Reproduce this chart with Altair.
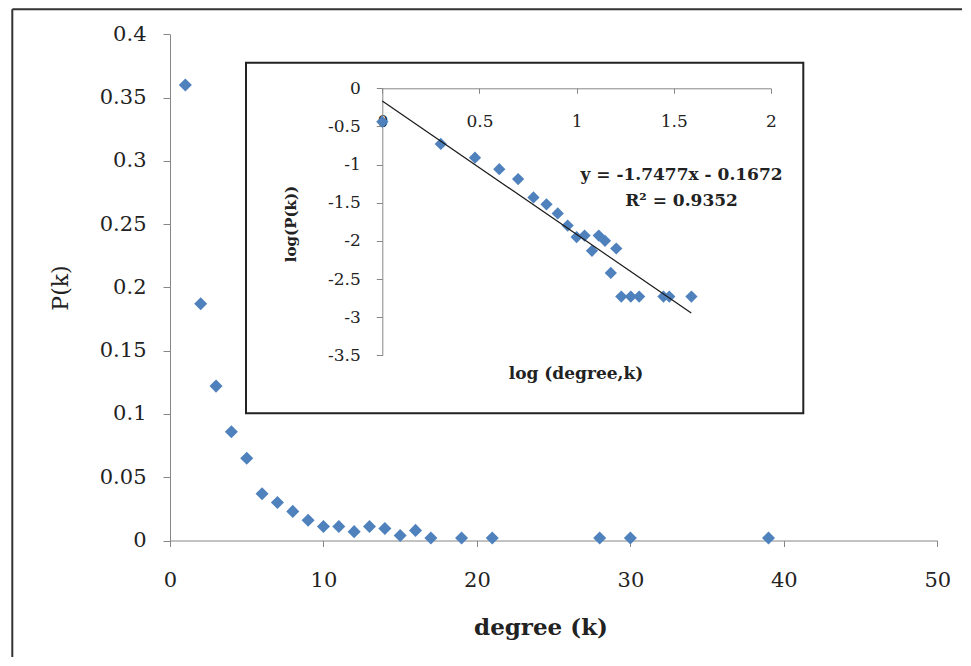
import altair as alt
import pandas as pd

# ---- data ----
degree = [1, 2, 3, 4, 5, 6, 7, 8, 9, 10, 11, 12, 13, 14, 15, 16, 17, 19, 21, 28, 30, 39]
pk = [0.360, 0.187, 0.122, 0.086, 0.065, 0.037, 0.030, 0.023, 0.016, 0.011, 0.011,
      0.007, 0.011, 0.0095, 0.004, 0.008, 0.002, 0.002, 0.002, 0.002, 0.002, 0.002]

log_degree = [0.0, 0.301, 0.477, 0.602, 0.699, 0.778, 0.845, 0.903, 0.954, 1.0, 1.041,
              1.079, 1.114, 1.146, 1.176, 1.204, 1.230, 1.279, 1.322, 1.447, 1.477, 1.591]
log_pk = [-0.44, -0.73, -0.91, -1.06, -1.19, -1.43, -1.52, -1.64, -1.80, -1.95, -1.93,
          -2.13, -1.93, -2.00, -2.42, -2.10, -2.73, -2.73, -2.73, -2.73, -2.73, -2.73]

trend_x = [0.0, 1.59]
trend_y = [-0.167, -2.946]

eq_lines = ["y = -1.7477x - 0.1672", "R² = 0.9352"]
eq_x = [1.54, 1.54]
eq_y = [-1.14, -1.48]

main_x_ticks = [0, 10, 20, 30, 40, 50]
main_y_ticks = [0, 0.05, 0.1, 0.15, 0.2, 0.25, 0.3, 0.35, 0.4]
inset_x_ticks = [0, 0.5, 1, 1.5, 2]
inset_y_ticks = [0, -0.5, -1, -1.5, -2, -2.5, -3, -3.5]

# ---- layout ----
W, H = 954, 649
FONT = "DejaVu Serif"
BLUE = "#4F81BD"
AXC = "#868686"
TXT = "#222222"

df_main = pd.DataFrame({"degree": degree, "pk": pk})
df_inset = pd.DataFrame({"lx": log_degree, "ly": log_pk})
df_trend = pd.DataFrame({"lx": trend_x, "ly": trend_y})
df_eq = pd.DataFrame({"lx": eq_x, "ly": eq_y, "t": eq_lines})
one = pd.DataFrame({"a": [0]})

axis_common = dict(grid=False, domainColor=AXC, tickColor=AXC, labelColor=TXT,
                   labelFont=FONT, labelFlush=False, labelOverlap=False,
                   labelExpr="toString(datum.value)", title=None)

main_x = alt.X("degree:Q",
               scale=alt.Scale(domain=[0, 50], range=[162, 929.3], nice=False, zero=False),
               axis=alt.Axis(orient="bottom", offset=-(H - 532.5), values=main_x_ticks,
                             tickSize=6, labelFontSize=21, labelPadding=23, **axis_common))
main_y = alt.Y("pk:Q",
               scale=alt.Scale(domain=[0, 0.4], range=[532.5, 26.3], nice=False, zero=False),
               axis=alt.Axis(orient="left", offset=-162, values=main_y_ticks,
                             tickSize=7, labelFontSize=21, labelPadding=17, **axis_common))

in_x = alt.X("lx:Q",
             scale=alt.Scale(domain=[0, 2], range=[374.3, 762.9], nice=False, zero=False),
             axis=alt.Axis(orient="bottom", offset=-(H - 80.3), values=inset_x_ticks,
                           tickSize=5, labelFontSize=17, labelPadding=20, **axis_common))
in_y = alt.Y("ly:Q",
             scale=alt.Scale(domain=[-3.5, 0], range=[347.3, 80.3], nice=False, zero=False),
             axis=alt.Axis(orient="left", offset=-374.3, values=inset_y_ticks,
                           tickSize=6, labelFontSize=17, labelPadding=16, **axis_common))

main_pts = alt.Chart(df_main).mark_point(
    shape="diamond", filled=True, size=170, color=BLUE, opacity=1
).encode(x=main_x, y=main_y)

inset_pts = alt.Chart(df_inset).mark_point(
    shape="diamond", filled=True, size=150, color=BLUE, opacity=1
).encode(x=in_x, y=in_y)

trend = alt.Chart(df_trend).mark_line(color="#1a1a1a", strokeWidth=1.2).encode(x=in_x, y=in_y)

eq = alt.Chart(df_eq).mark_text(
    font=FONT, fontSize=17, fontWeight="bold", color=TXT, align="center", baseline="middle"
).encode(x=in_x, y=in_y, text="t:N")

inset_group = alt.layer(inset_pts, trend, eq)

# frames and titles
outer_left = alt.Chart(one).mark_rule(color="#333333", strokeWidth=2).encode(
    x=alt.value(4.3), y=alt.value(1.3), y2=alt.value(H))
outer_top = alt.Chart(one).mark_rule(color="#333333", strokeWidth=2).encode(
    x=alt.value(4.3), x2=alt.value(W), y=alt.value(1.3))
inset_frame = alt.Chart(one).mark_rect(
    fillOpacity=0, stroke="#222222", strokeWidth=2
).encode(x=alt.value(238), x2=alt.value(795.3), y=alt.value(54.7), y2=alt.value(405.3))

def label(text, x, y, size, bold=False, angle=0):
    kw = dict(text=text, font=FONT, fontSize=size, color=TXT, align="center", baseline="middle")
    if bold:
        kw["fontWeight"] = "bold"
    if angle:
        kw["angle"] = angle
    return alt.Chart(one).mark_text(**kw).encode(x=alt.value(x), y=alt.value(y))

t_main_y = label("P(k)", 52.7, 280, 22, angle=270)
t_main_x = label("degree (k)", 533, 620, 23, bold=True)
t_in_y = label("log(P(k))", 283, 216, 15, bold=True, angle=270)
t_in_x = label("log (degree,k)", 568, 366, 17, bold=True)

chart = alt.layer(
    main_pts, inset_group,
    outer_left, outer_top, inset_frame,
    t_main_y, t_main_x, t_in_y, t_in_x,
).resolve_scale(
    x="independent", y="independent"
).properties(
    width=W, height=H, padding=0,
    autosize=alt.AutoSizeParams(type="none"),
    background="white",
).configure_view(strokeWidth=0)

chart.save("out.html", embed_options={"renderer": "svg", "actions": False})
